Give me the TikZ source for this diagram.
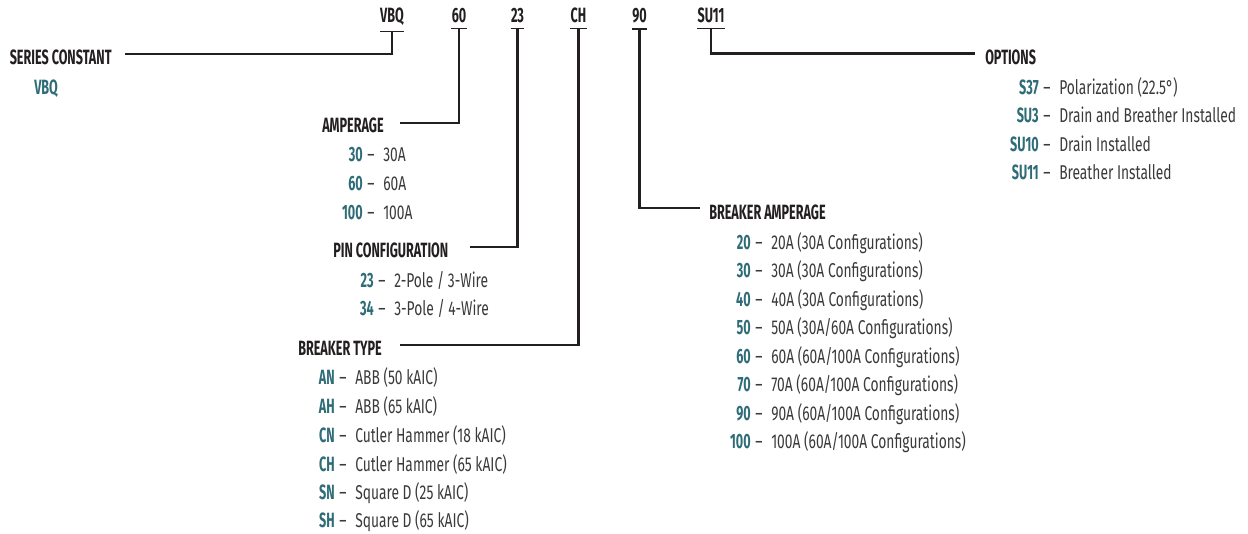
\documentclass[tikz,border=0pt]{standalone}
\usepackage{fontspec}
\setmainfont{Fira Sans}[FakeStretch=0.69]
\newfontfamily\condbold{Fira Sans}[FakeStretch=0.61]
\definecolor{codeteal}{HTML}{2E6C78}
\definecolor{ink}{HTML}{231F20}
\definecolor{desctext}{HTML}{3A3A3A}
\begin{document}
\begin{tikzpicture}[x=0.75pt,y=-0.75pt,
  hdr/.style={font=\condbold\fontsize{15.5}{17}\selectfont\bfseries, text=ink, inner sep=0, anchor=west},
  topcode/.style={font=\condbold\fontsize{15.5}{17}\selectfont\bfseries, text=ink, inner xsep=0, inner ysep=4.5pt, anchor=base},
  codeitem/.style={font=\condbold\fontsize{15.5}{17}\selectfont\bfseries, text=codeteal, inner sep=0, anchor=base east},
  descitem/.style={font=\fontsize{15}{17}\selectfont, text=desctext, inner sep=0, anchor=base west},
  conn/.style={draw=ink, line width=1.6pt, line join=miter},
  uline/.style={draw=ink, line width=1.1pt}
]
\useasboundingbox (0,0) rectangle (1248,533);

% top code row
\node[topcode] (t1) at (392,22) {VBQ};
\node[topcode] (t2) at (459,22) {60};
\node[topcode] (t3) at (517.5,22) {23};
\node[topcode] (t4) at (578.5,22) {CH};
\node[topcode] (t5) at (639.5,22) {90};
\node[topcode] (t6) at (711,22) {SU11};
\foreach \t in {t1,t2,t3,t4,t5,t6}
  \draw[uline] (\t.south west) -- (\t.south east);

% headers
\node[hdr] (sc) at (9.5,57) {SERIES CONSTANT};
\node[hdr] (amp) at (322,125.5) {AMPERAGE};
\node[hdr] (pin) at (333,250) {PIN CONFIGURATION};
\node[hdr] (bt) at (298,348) {BREAKER TYPE};
\node[hdr] (ba) at (709,212) {BREAKER AMPERAGE};
\node[hdr] (opt) at (985,57) {OPTIONS};

% connector ends
\coordinate (sc-e) at (125,54);
\coordinate (amp-e) at (400,123.3);
\coordinate (pin-e) at (470,246.7);
\coordinate (bt-e) at (400,345);
\coordinate (ba-e) at (700,208);
\coordinate (opt-e) at (975,53.5);

\draw[conn] (t1.south) |- (sc-e);
\draw[conn] (t2.south) |- (amp-e);
\draw[conn] (t3.south) |- (pin-e);
\draw[conn] (t4.south) |- (bt-e);
\draw[conn] (t5.south) |- (ba-e);
\draw[conn] (t6.south) |- (opt-e);

% series constant value
\node[codeitem, anchor=base west] (sc-v) at (34,94) {VBQ};

% amperage
\foreach \c/\d/\y [count=\i] in {30/{30A}/161, 60/{60A}/190, 100/{100A}/219}{
  \node[codeitem] (amp-c\i) at (363,\y) {\c};
  \node[descitem] (amp-d\i) at (367,\y) {\makebox[12pt][l]{–}\d};
}
% pin configuration
\foreach \c/\d/\y [count=\i] in {23/{2-Pole / 3-Wire}/287, 34/{3-Pole / 4-Wire}/315}{
  \node[codeitem] (pin-c\i) at (374,\y) {\c};
  \node[descitem] (pin-d\i) at (378,\y) {\makebox[12pt][l]{–}\d};
}
% breaker type
\foreach \c/\d/\y [count=\i] in {AN/{ABB (50 kAIC)}/384, AH/{ABB (65 kAIC)}/413, CN/{Cutler Hammer (18 kAIC)}/442, CH/{Cutler Hammer (65 kAIC)}/471, SN/{Square D (25 kAIC)}/499, SH/{Square D (65 kAIC)}/527}{
  \node[codeitem] (bt-c\i) at (335,\y) {\c};
  \node[descitem] (bt-d\i) at (339,\y) {\makebox[12pt][l]{–}\d};
}
% breaker amperage
\foreach \c/\d/\y [count=\i] in {20/{20A (30A Configurations)}/249, 30/{30A (30A Configurations)}/277, 40/{40A (30A Configurations)}/306, 50/{50A (30A/60A Configurations)}/334, 60/{60A (60A/100A Configurations)}/363, 70/{70A (60A/100A Configurations)}/391, 90/{90A (60A/100A Configurations)}/420, 100/{100A (60A/100A Configurations)}/448}{
  \node[codeitem] (ba-c\i) at (751,\y) {\c};
  \node[descitem] (ba-d\i) at (755,\y) {\makebox[12pt][l]{–}\d};
}
% options
\foreach \c/\d/\y [count=\i] in {S37/{Polarization (22.5°)}/94, SU3/{Drain and Breather Installed}/122, SU10/{Drain Installed}/151, SU11/{Breather Installed}/179}{
  \node[codeitem] (opt-c\i) at (1039,\y) {\c};
  \node[descitem] (opt-d\i) at (1043,\y) {\makebox[12pt][l]{–}\d};
}
\end{tikzpicture}
\end{document}
